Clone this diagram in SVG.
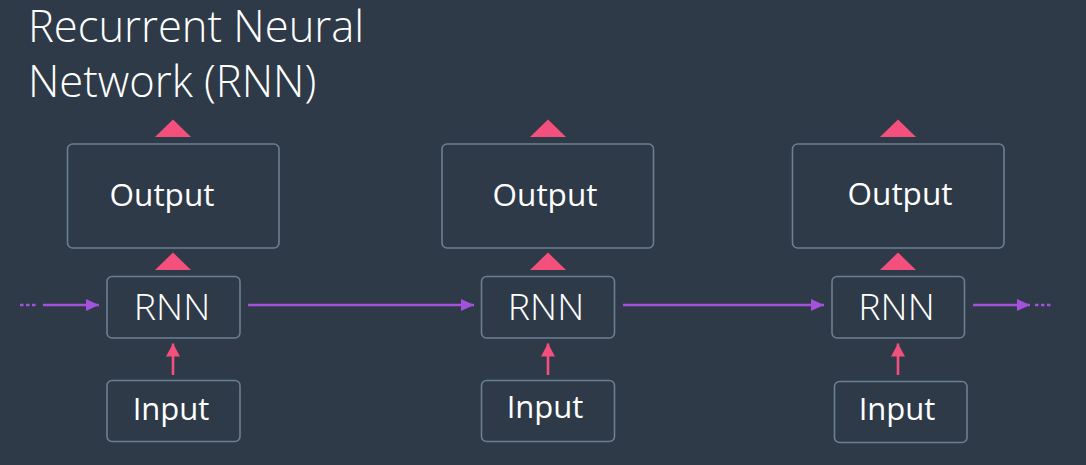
<svg xmlns="http://www.w3.org/2000/svg" width="1086" height="465" viewBox="0 0 1086 465">
<style>
.box{fill:#2e3a47;stroke:#6b7f92;stroke-width:1.6}
.lbl{font-family:"Open Sans","Noto Sans",sans-serif;fill:#ffffff;text-anchor:middle}
.out{font-size:31.5px}
.rnn{font-size:37.5px;font-weight:300}
.inp{font-size:31px}
.title{font-family:"Open Sans","Noto Sans",sans-serif;font-size:43.5px;font-weight:300;fill:#ffffff}
.h{stroke:#a452dc;stroke-width:2.6;fill:none}
.dots{stroke:#a452dc;stroke-width:2.6;fill:none;stroke-dasharray:3.5 2.5}
.v{stroke:#f4507d;stroke-width:2.6;fill:none}
.tri{fill:#f4507d}
</style>
<defs>
<marker id="ap" markerWidth="13" markerHeight="12" refX="13" refY="6" orient="auto" markerUnits="userSpaceOnUse">
<path d="M0,0 L13,6 L0,12 Z" fill="#a452dc"/>
</marker>
<marker id="ak" markerWidth="13" markerHeight="14" refX="13" refY="7" orient="auto" markerUnits="userSpaceOnUse">
<path d="M0,0 L13,7 L0,14 Z" fill="#f4507d"/>
</marker>
</defs>
<rect width="1086" height="465" fill="#2e3a47"/>
<text class="title" x="28" y="42">Recurrent Neural</text>
<text class="title" x="28" y="97">Network (RNN)</text>

<g id="connectors">
<path class="dots" d="M20,305 H37"/>
<path class="h" d="M43,305 H99" marker-end="url(#ap)"/>
<path class="h" d="M248,305 H474" marker-end="url(#ap)"/>
<path class="h" d="M623,305 H824" marker-end="url(#ap)"/>
<path class="h" d="M973,305 H1030" marker-end="url(#ap)"/>
<path class="dots" d="M1035,305 H1052"/>
<path class="v" d="M173,375 V343.5" marker-end="url(#ak)"/>
<path class="v" d="M548,375 V343.5" marker-end="url(#ak)"/>
<path class="v" d="M898,375 V343.5" marker-end="url(#ak)"/>
<polygon class="tri" points="155,137 191,137 173,119.5"/>
<polygon class="tri" points="155,270 191,270 173,252.5"/>
<polygon class="tri" points="530,137 566,137 548,119.5"/>
<polygon class="tri" points="530,270 566,270 548,252.5"/>
<polygon class="tri" points="880,137 916,137 898,119.5"/>
<polygon class="tri" points="880,270 916,270 898,252.5"/>
</g>

<g id="output1"><rect class="box" x="67.5" y="144" width="211.5" height="104" rx="5"/><text class="lbl out" x="162" y="206">Output</text></g>
<g id="rnn1"><rect class="box" x="107" y="276.5" width="133" height="61.5" rx="5"/><text class="lbl rnn" x="172" y="319.5">RNN</text></g>
<g id="input1"><rect class="box" x="107" y="380.5" width="133" height="61" rx="5"/><text class="lbl inp" x="171" y="419.5">Input</text></g>

<g id="output2"><rect class="box" x="442" y="144" width="211.5" height="104" rx="5"/><text class="lbl out" x="545" y="206">Output</text></g>
<g id="rnn2"><rect class="box" x="481.5" y="276.5" width="133" height="61.5" rx="5"/><text class="lbl rnn" x="546" y="319.5">RNN</text></g>
<g id="input2"><rect class="box" x="481.5" y="380.5" width="133" height="61" rx="5"/><text class="lbl inp" x="545" y="418">Input</text></g>

<g id="output3"><rect class="box" x="792.5" y="144" width="211.5" height="104" rx="5"/><text class="lbl out" x="900" y="204.5">Output</text></g>
<g id="rnn3"><rect class="box" x="832" y="276.5" width="132.5" height="61.5" rx="5"/><text class="lbl rnn" x="896.5" y="319.5">RNN</text></g>
<g id="input3"><rect class="box" x="834.5" y="381.5" width="132.5" height="61" rx="5"/><text class="lbl inp" x="897" y="420">Input</text></g>
</svg>
